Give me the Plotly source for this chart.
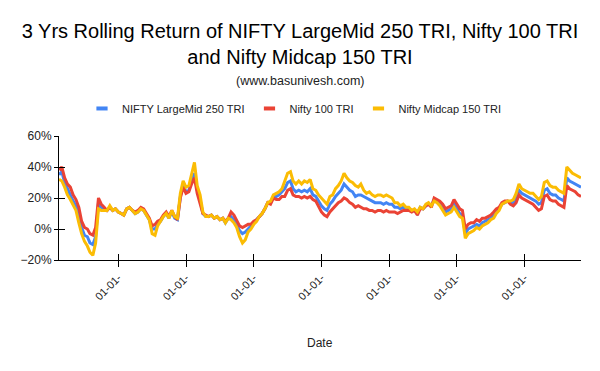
import pandas as pd
import plotly.graph_objects as go

# Monthly samples, starting April 2008
start_month = "2008-04-01"

largemid250 = [35, 37, 30, 26, 23, 18, 15, 9, 1, -4, -5, -9, -10, -5, 17, 14, 13, 12, 14, 12,
               13, 11, 10, 9, 13, 14, 12, 10, 11, 13, 12, 9, 6, 0, 0, 3, 5, 8, 10, 7,
               11, 7, 6, 21, 28, 24, 25, 31, 36, 25, 19, 10, 8, 8, 9, 7, 8, 6, 7, 4,
               7, 8, 6, 3, -1, -3, -2, 0, 2, 4, 6, 8, 10, 13, 17, 17, 21, 21, 22, 24,
               26, 30, 31, 26, 24, 25, 24, 25, 24, 26, 22, 21, 18, 15, 13, 12, 16, 18, 21, 23,
               25, 29, 27, 25, 24, 21, 22, 22, 21, 20, 19, 18, 17, 17, 17, 16, 17, 16, 16, 14,
               14, 13, 14, 13, 13, 12, 12, 10, 14, 13, 15, 16, 15, 19, 18, 17, 14, 11, 12, 13,
               16, 13, 10, 9, -3, 0, 1, 2, 3, 2, 4, 5, 6, 7, 9, 11, 13, 16, 17, 18,
               17, 17, 20, 25, 23, 22, 21, 20, 19, 18, 16, 17, 25, 26, 23, 22, 22, 20, 19, 18,
               33, 31, 30, 29, 28, 27]

nifty100 = [38, 40, 33, 29, 27, 22, 19, 14, 5, 1, 0, -3, -4, 1, 20, 16, 14, 12, 14, 12,
            13, 11, 10, 9, 13, 14, 12, 11, 12, 14, 13, 10, 7, 2, 3, 5, 6, 9, 11, 8,
            12, 8, 6, 20, 27, 23, 24, 29, 33, 23, 17, 10, 9, 8, 9, 7, 8, 6, 7, 5,
            7, 11, 9, 5, 2, 1, 2, 3, 3, 5, 6, 8, 10, 13, 17, 16, 20, 19, 19, 21,
            21, 25, 26, 22, 21, 21, 20, 21, 20, 21, 19, 18, 14, 11, 9, 8, 11, 13, 15, 17,
            18, 20, 19, 17, 16, 14, 15, 14, 13, 13, 12, 12, 11, 12, 12, 11, 12, 11, 11, 11,
            10, 11, 12, 12, 12, 11, 12, 9, 13, 13, 15, 16, 14, 20, 19, 18, 16, 13, 14, 15,
            19, 16, 13, 12, 0, 3, 4, 4, 6, 5, 7, 7, 8, 9, 11, 13, 14, 17, 18, 18,
            16, 15, 17, 22, 20, 19, 18, 17, 16, 14, 12, 13, 21, 22, 19, 18, 18, 16, 15, 14,
            28, 26, 25, 24, 22, 21]

midcap150 = [32, 31, 27, 22, 19, 15, 12, 4, -3, -8, -11, -15, -17, -9, 13, 12, 12, 12, 15, 12,
             13, 11, 10, 9, 13, 14, 12, 10, 11, 13, 12, 9, 6, -3, -4, 2, 5, 8, 10, 7,
             12, 8, 7, 23, 31, 27, 28, 35, 43, 28, 22, 11, 8, 8, 9, 7, 8, 6, 7, 4,
             7, 6, 4, 1, -5, -9, -7, -2, 0, 3, 5, 8, 10, 13, 17, 18, 22, 23, 24, 26,
             31, 36, 37, 31, 29, 31, 29, 31, 30, 32, 26, 25, 22, 20, 18, 16, 21, 22, 26, 28,
             31, 36, 33, 31, 30, 28, 27, 29, 25, 23, 24, 22, 21, 22, 22, 21, 22, 21, 20, 17,
             17, 15, 16, 14, 14, 12, 13, 11, 14, 13, 16, 17, 15, 18, 17, 15, 12, 9, 10, 11,
             14, 11, 8, 7, -6, -3, -2, -1, 1, 0, 2, 3, 4, 6, 7, 10, 12, 16, 17, 18,
             18, 19, 23, 29, 26, 25, 24, 23, 23, 21, 19, 21, 30, 31, 28, 27, 27, 25, 24, 23,
             40, 38, 36, 35, 34, 33]

series_names = ["NIFTY LargeMid 250 TRI", "Nifty 100 TRI", "Nifty Midcap 150 TRI"]
series_values = [largemid250, nifty100, midcap150]
series_colors = ["#4285F4", "#EA4335", "#FBBC04"]

dates = pd.date_range(start=start_month, periods=len(largemid250), freq="MS")
x_range = [dates[0], dates[-1]]

fig = go.Figure()
for name, vals, col in zip(series_names, series_values, series_colors):
    fig.add_trace(go.Scatter(x=dates, y=vals, mode="lines", name=name,
                             line=dict(color=col, width=3), showlegend=False,
                             hoverinfo="skip"))
# legend-only entries (short bars like the original)
for name, col in zip(series_names, series_colors):
    fig.add_trace(go.Scatter(x=[None], y=[None], mode="markers", name=name,
                             marker=dict(symbol="line-ew", size=8,
                                         line=dict(color=col, width=4))))

font_family = "Arial, Liberation Sans, sans-serif"
center_paper = (300 - 59) / 522
legend_center = (294 - 59) / 522

fig.update_layout(
    width=600, height=371,
    margin=dict(l=59, r=19, t=136, b=111),
    paper_bgcolor="white", plot_bgcolor="white",
    font=dict(family=font_family, color="#222222", size=11),
    title=dict(text="3 Yrs Rolling Return of NIFTY LargeMid 250 TRI, Nifty 100 TRI<br>and Nifty Midcap 150 TRI",
               x=0.5, xanchor="center", y=1 - 38 / 371, yanchor="middle", yref="container",
               font=dict(size=20, color="#000000", family=font_family)),
    legend=dict(orientation="h", x=legend_center, xanchor="center", y=1.222,
                yanchor="middle", font=dict(size=11, color="#222222"), itemwidth=30,
                bgcolor="rgba(0,0,0,0)"),
    xaxis=dict(type="date", range=x_range, tick0="2010-01-01", dtick="M24",
               tickformat="%d-%m-", tickangle=-45, showgrid=False, zeroline=False,
               showline=True, linecolor="#000000", linewidth=1,
               ticks="outside", ticklen=6, tickcolor="#000000",
               tickfont=dict(size=11, color="#222222")),
    xaxis2=dict(type="date", range=x_range, tick0="2010-01-01", dtick="M24",
                overlaying="x", side="bottom", showgrid=False, zeroline=False,
                showticklabels=False, ticks="inside", ticklen=6, tickcolor="#000000"),
    yaxis=dict(range=[-20, 60], dtick=20, ticksuffix="%", showgrid=False, zeroline=False,
               showline=True, linecolor="#000000", linewidth=1,
               ticks="outside", ticklen=4, tickcolor="#000000",
               tickfont=dict(size=12, color="#222222")),
    yaxis2=dict(range=[-20, 60], dtick=20, overlaying="y", side="left", showgrid=False,
                zeroline=False, showticklabels=False, ticks="inside", ticklen=6,
                tickcolor="#000000"),
    annotations=[
        dict(text="(www.basunivesh.com)", x=center_paper, xref="paper", y=1 + 55 / 124.6,
             yref="paper", xanchor="center", yanchor="middle", showarrow=False,
             font=dict(size=12.5, color="#222222")),
        dict(text="Date", x=0.5, xref="paper", y=-(344 - 260.3) / 124.6,
             yref="paper", xanchor="center", yanchor="middle", showarrow=False,
             font=dict(size=12, color="#222222")),
    ],
)
# invisible trace on the secondary axes so their crossing ticks render
fig.add_trace(go.Scatter(x=[None], y=[None], xaxis="x2", yaxis="y2", showlegend=False,
                         hoverinfo="skip"))

fig.write_html("out.html")
